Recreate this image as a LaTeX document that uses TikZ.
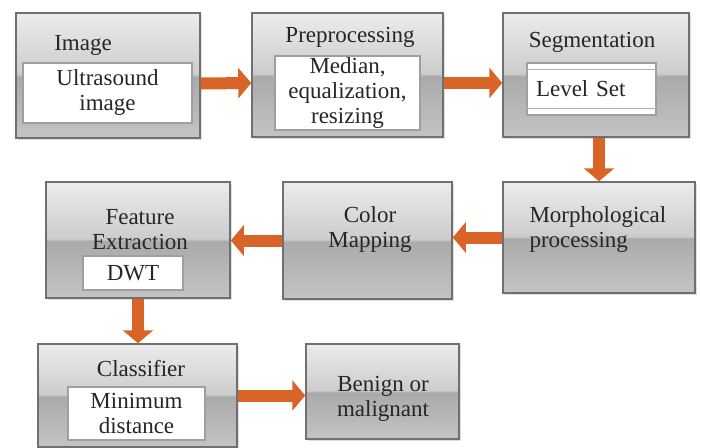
\documentclass[tikz,border=0pt]{standalone}
\usepackage{fontspec}
\setmainfont{Liberation Serif}
\usetikzlibrary{arrows.meta,shadows}
\definecolor{arrowor}{RGB}{216,100,40}
\definecolor{boxline}{RGB}{112,112,112}
\definecolor{boxtop}{RGB}{236,236,236}
\definecolor{boxmidup}{RGB}{204,204,204}
\definecolor{boxmiddown}{RGB}{170,170,170}
\definecolor{boxbot}{RGB}{196,196,196}
\pgfdeclareverticalshading{boxshade}{100bp}{color(0bp)=(boxbot);color(25bp)=(boxbot);color(49.5bp)=(boxmiddown);color(50.5bp)=(boxmidup);color(75bp)=(boxtop);color(100bp)=(boxtop)}

\begin{document}
\begin{tikzpicture}[x=1pt,y=-1pt,
	font=\fontsize{23}{25}\selectfont,text=black!85,
	stage/.style={draw=boxline,line width=1.5pt,shading=boxshade,inner sep=0pt,
		drop shadow={opacity=0.25,shadow xshift=2pt,shadow yshift=-2pt}},
	inbox/.style={draw=gray!75,fill=white,line width=2pt,inner sep=0pt,align=center},
	flow/.style={arrowor,line width=12pt,-{Triangle[length=13pt,width=30pt]}}]

\useasboundingbox (0,0) rectangle (701,447);

% first row
\node [stage,minimum width=184pt,minimum height=125pt] (img) at (108,75.5) {};
\node (imgt) at (83,45) {Image};
\node [inbox,minimum width=169pt,minimum height=60pt] (imgin) at (107.5,93) {Ultrasound\\image};

\node [stage,minimum width=191pt,minimum height=124pt] (pre) at (347.5,75) {};
\node (pret) at (350,37) {Preprocessing};
\node [inbox,minimum width=145pt,minimum height=74pt] (prein) at (347.5,93) {Median,\\equalization,\\resizing};

\node [stage,minimum width=186pt,minimum height=124pt] (seg) at (596,75) {};
\node (segt) at (592,42) {Segmentation};
\node [inbox,minimum width=129pt,minimum height=52pt,text width=111pt,inner xsep=9pt,align=left] (lvl) at (591.5,89) {Level Set};
\draw [gray!60,line width=1pt] ([yshift=-7pt]lvl.north west) -- ([yshift=-7pt]lvl.north east)
	([yshift=8pt]lvl.south west) -- ([yshift=8pt]lvl.south east);

% second row
\node [stage,minimum width=192pt,minimum height=111pt] (morph) at (599,237.5) {};
\node [anchor=west,align=left] (morpht) at (526,229.5) {Morphological\\processing};

\node [stage,minimum width=169pt,minimum height=117pt] (color) at (367.5,240.5) {};
\node [align=center] (colort) at (370,229.5) {Color\\Mapping};

\node [stage,minimum width=184pt,minimum height=116pt] (feat) at (138,240) {};
\node [align=center] (featt) at (140,229.5) {Feature\\Extraction};
\node [inbox,minimum width=100pt,minimum height=34pt] (dwt) at (133,273) {DWT};

% third row
\node [stage,minimum width=199pt,minimum height=103pt] (cls) at (137.5,395.5) {};
\node (clst) at (141,369) {Classifier};
\node [inbox,minimum width=137pt,minimum height=53pt] (mind) at (136.5,413.5) {Minimum\\distance};

\node [stage,minimum width=153pt,minimum height=95pt] (ben) at (382.5,391.5) {};
\node [align=center] (bent) at (383,399) {Benign or\\malignant};

\draw [flow] ([yshift=-8pt]img.east) -- ([yshift=-8pt]pre.west);
\draw [flow] ([yshift=-8pt]pre.east) -- ([yshift=-8pt]seg.west);
\draw [flow] (morph.north |- seg.south) -- (morph.north);
\draw [flow] (morph.west) -- (morph.west -| color.east);
\draw [flow] (color.west) -- (color.west -| feat.east);
\draw [flow] (feat.south) -- (feat.south |- cls.north);
\draw [flow] (cls.east) -- (cls.east -| ben.west);
\end{tikzpicture}
\end{document}
